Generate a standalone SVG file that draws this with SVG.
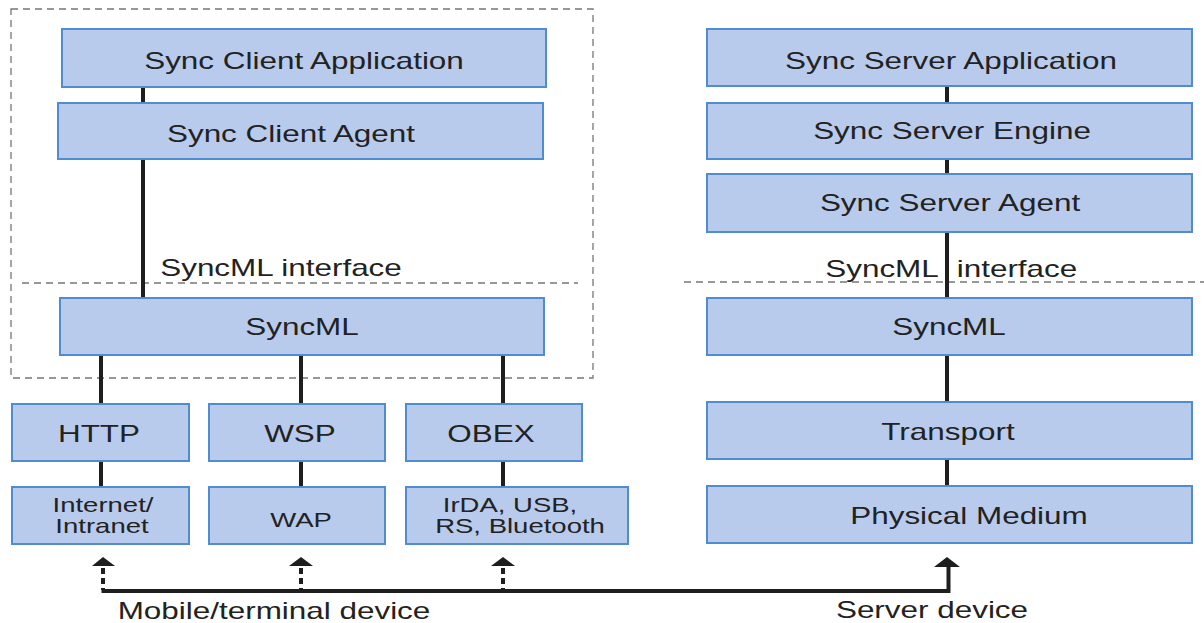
<svg xmlns="http://www.w3.org/2000/svg" width="1204" height="623" viewBox="0 0 1204 623">
<style>
.box{fill:#b9cbec;stroke:#4f8cd0;stroke-width:2}
.t{font-family:"Liberation Sans",Arial,sans-serif;font-size:24px;fill:#222;text-anchor:middle}
.s{font-size:21px}
.ln{stroke:#1e1e1e;stroke-width:4;fill:none}
.dash{stroke:#777;stroke-width:1.3;stroke-dasharray:7 5;fill:none}
.dot{stroke:#1e1e1e;stroke-width:4;stroke-dasharray:6 4;fill:none}
.ah{fill:#1e1e1e}
</style>
<rect width="1204" height="623" fill="#fff"/>
<g id="client-boundary">
<rect x="11" y="9" width="582" height="369" class="dash"/>
</g>
<g id="interface-lines">
<line x1="22" y1="283" x2="578" y2="283" class="dash"/>
<line x1="684" y1="282" x2="1204" y2="282" class="dash"/>
</g>
<g id="connectors">
<line x1="143" y1="87" x2="143" y2="103" class="ln"/>
<line x1="143" y1="159" x2="143" y2="298" class="ln"/>
<line x1="101" y1="355" x2="101" y2="404" class="ln"/>
<line x1="301" y1="355" x2="301" y2="404" class="ln"/>
<line x1="503" y1="355" x2="503" y2="404" class="ln"/>
<line x1="101" y1="461" x2="101" y2="487" class="ln"/>
<line x1="301" y1="461" x2="301" y2="487" class="ln"/>
<line x1="503" y1="461" x2="503" y2="487" class="ln"/>
<line x1="947" y1="86" x2="947" y2="103" class="ln"/>
<line x1="947" y1="159" x2="947" y2="174" class="ln"/>
<line x1="947" y1="232" x2="947" y2="298" class="ln"/>
<line x1="947" y1="355" x2="947" y2="402" class="ln"/>
<line x1="947" y1="459" x2="947" y2="486" class="ln"/>
<line x1="103" y1="568" x2="103" y2="590" class="dot"/>
<line x1="301" y1="568" x2="301" y2="590" class="dot"/>
<line x1="503" y1="568" x2="503" y2="590" class="dot"/>
<path d="M101.5 591 H948.5 V566" class="ln" stroke-width="3.5"/>
<polygon points="92,566 103,557 115,566" class="ah"/>
<polygon points="289,566 301,557 313,566" class="ah"/>
<polygon points="491,566 503,557 515,566" class="ah"/>
<polygon points="934,567 947,557 960,567" class="ah"/>
</g>
<g id="sync-client-application">
<rect x="62" y="29" width="484" height="58" class="box"/>
<text class="t" transform="translate(304,69) scale(1.31,1)">Sync Client Application</text>
</g>
<g id="sync-client-agent">
<rect x="58" y="103" width="485" height="56" class="box"/>
<text class="t" transform="translate(291,142) scale(1.31,1)">Sync Client Agent</text>
</g>
<g id="client-interface-label">
<text class="t" transform="translate(281,276) scale(1.31,1)">SyncML interface</text>
</g>
<g id="client-syncml">
<rect x="60" y="298" width="484" height="57" class="box"/>
<text class="t" transform="translate(302,335) scale(1.31,1)">SyncML</text>
</g>
<g id="http">
<rect x="12" y="404" width="177" height="57" class="box"/>
<text class="t" transform="translate(99,442) scale(1.31,1)">HTTP</text>
</g>
<g id="wsp">
<rect x="209" y="404" width="176" height="57" class="box"/>
<text class="t" transform="translate(300,442) scale(1.31,1)">WSP</text>
</g>
<g id="obex">
<rect x="406" y="404" width="176" height="57" class="box"/>
<text class="t" transform="translate(491,442) scale(1.31,1)">OBEX</text>
</g>
<g id="internet-intranet">
<rect x="12" y="487" width="177" height="57" class="box"/>
<text class="t s" transform="translate(103,512) scale(1.31,1)">Internet/</text>
<text class="t s" transform="translate(102,533) scale(1.31,1)">Intranet</text>
</g>
<g id="wap">
<rect x="209" y="487" width="176" height="57" class="box"/>
<text class="t s" transform="translate(301,527) scale(1.31,1)">WAP</text>
</g>
<g id="irda-usb-rs-bluetooth">
<rect x="406" y="487" width="222" height="57" class="box"/>
<text class="t s" transform="translate(510,512) scale(1.31,1)">IrDA, USB,</text>
<text class="t s" transform="translate(520,533) scale(1.31,1)">RS, Bluetooth</text>
</g>
<g id="sync-server-application">
<rect x="707" y="29" width="485" height="57" class="box"/>
<text class="t" transform="translate(951,69) scale(1.31,1)">Sync Server Application</text>
</g>
<g id="sync-server-engine">
<rect x="707" y="103" width="485" height="56" class="box"/>
<text class="t" transform="translate(952,139) scale(1.31,1)">Sync Server Engine</text>
</g>
<g id="sync-server-agent">
<rect x="707" y="174" width="485" height="58" class="box"/>
<text class="t" transform="translate(950,211) scale(1.31,1)">Sync Server Agent</text>
</g>
<g id="server-interface-label">
<text class="t" transform="translate(882,277) scale(1.31,1)">SyncML</text>
<text class="t" transform="translate(1017,277) scale(1.31,1)">interface</text>
</g>
<g id="server-syncml">
<rect x="707" y="298" width="485" height="57" class="box"/>
<text class="t" transform="translate(949,335) scale(1.31,1)">SyncML</text>
</g>
<g id="transport">
<rect x="707" y="402" width="485" height="57" class="box"/>
<text class="t" transform="translate(948,440) scale(1.31,1)">Transport</text>
</g>
<g id="physical-medium">
<rect x="707" y="486" width="485" height="57" class="box"/>
<text class="t" transform="translate(969,524) scale(1.31,1)">Physical Medium</text>
</g>
<g id="device-labels">
<text class="t" transform="translate(274,619) scale(1.31,1)">Mobile/terminal device</text>
<text class="t" transform="translate(932,618) scale(1.31,1)">Server device</text>
</g>
</svg>
